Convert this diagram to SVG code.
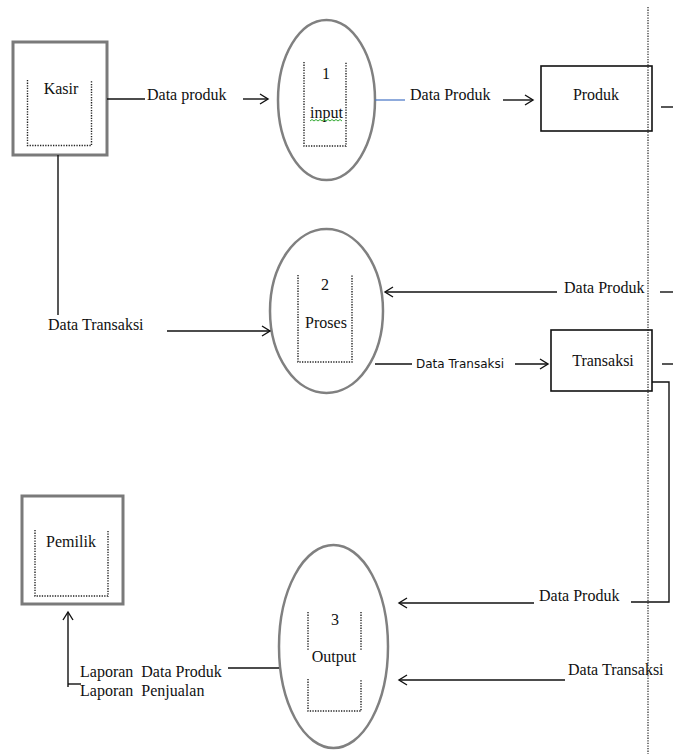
<svg xmlns="http://www.w3.org/2000/svg" width="673" height="754" viewBox="0 0 673 754" font-family="'Liberation Serif', 'Times New Roman', serif" font-size="16">
<style>
text{font-family:"Liberation Serif","Times New Roman",serif;font-size:16px;fill:#111}
text.sans{font-family:"DejaVu Sans",Verdana,sans-serif;font-size:12px}
.mid{text-anchor:middle}
.ent{fill:none;stroke:#7a7a7a;stroke-width:3}
.proc{fill:none;stroke:#808080;stroke-width:2.5}
.store{fill:none;stroke:#111;stroke-width:1.6}
.dot{fill:none;stroke:#222;stroke-width:1.4;stroke-dasharray:1.3 1.3}
.ln{fill:none;stroke:#111;stroke-width:1.4}
</style>
<defs>
<marker id="ah" markerUnits="userSpaceOnUse" markerWidth="12" markerHeight="12" refX="9" refY="6" orient="auto">
<path d="M1,1 L9,6 L1,11" fill="none" stroke="#111" stroke-width="1.4"/>
</marker>
</defs>
<rect width="673" height="754" fill="#fff"/>
<line x1="648" y1="7" x2="648" y2="754" stroke="#444" stroke-width="1.4" stroke-dasharray="1.3 1.3"/>
<g id="kasir">
<rect class="ent" x="13" y="42" width="94" height="113"/>
<path class="dot" d="M27.5,80 V145.5 H91.5 V80"/>
<text class="mid" x="61" y="94" font-family="'Liberation Serif', serif">Kasir</text>
</g>
<g id="pemilik">
<rect class="ent" x="22" y="496" width="101" height="108"/>
<path class="dot" d="M35,530 V596 H108 V530"/>
<text class="mid" x="71" y="547" font-family="'Liberation Serif', serif">Pemilik</text>
</g>
<g id="p1">
<ellipse class="proc" cx="326.5" cy="100" rx="48.5" ry="80"/>
<path class="dot" d="M304,62 V146 H346 V62"/>
<text class="mid" x="326" y="79" font-family="'Liberation Serif', serif">1</text>
<text class="mid" x="326.5" y="118" font-family="'Liberation Serif', serif">input</text>
<path d="M310,121 l2,-1.5 l2,1.5 l2,-1.5 l2,1.5 l2,-1.5 l2,1.5 l2,-1.5 l2,1.5 l2,-1.5 l2,1.5 l2,-1.5 l2,1.5 l2,-1.5 l2,1.5 l2,-1.5 l2,1.5" fill="none" stroke="#3a3" stroke-width="1"/>
</g>
<g id="p2">
<ellipse class="proc" cx="326.5" cy="311" rx="56.5" ry="82"/>
<path class="dot" d="M298,275 V362 H352 V275"/>
<text class="mid" x="325" y="290" font-family="'Liberation Serif', serif">2</text>
<text class="mid" x="326" y="328" font-family="'Liberation Serif', serif">Proses</text>
</g>
<g id="p3">
<ellipse class="proc" cx="333.5" cy="646.5" rx="54.5" ry="101.5"/>
<path class="dot" d="M308,612 V650 M361,612 V650 M308,679 V711 H361 V679"/>
<text class="mid" x="335" y="625" font-family="'Liberation Serif', serif">3</text>
<text class="mid" x="334" y="662" font-family="'Liberation Serif', serif">Output</text>
</g>
<g id="produk">
<rect class="store" x="541" y="66" width="111" height="65"/>
<text class="mid" x="596" y="100" font-family="'Liberation Serif', serif">Produk</text>
</g>
<g id="transaksi">
<rect class="store" x="551" y="330" width="101" height="61"/>
<text class="mid" x="603" y="366" font-family="'Liberation Serif', serif">Transaksi</text>
</g>
<g id="connectors">
<line class="ln" x1="107" y1="99" x2="145" y2="99"/>
<line class="ln" x1="243" y1="99" x2="268" y2="99" marker-end="url(#ah)"/>
<text x="147" y="100" font-family="'Liberation Serif', serif">Data produk</text>
<line x1="375" y1="100" x2="405" y2="100" stroke="#4472c4" stroke-width="1.2"/>
<text x="410" y="100" font-family="'Liberation Serif', serif">Data Produk</text>
<line class="ln" x1="503" y1="100" x2="533" y2="100" marker-end="url(#ah)"/>
<line class="ln" x1="661" y1="107" x2="673" y2="107"/>
<line class="ln" x1="58" y1="155" x2="58" y2="315"/>
<text x="48" y="330" font-family="'Liberation Serif', serif">Data Transaksi</text>
<line class="ln" x1="167" y1="331" x2="270" y2="331" marker-end="url(#ah)"/>
<line class="ln" x1="557" y1="292" x2="385" y2="292" marker-end="url(#ah)"/>
<text x="564" y="293" font-family="'Liberation Serif', serif">Data Produk</text>
<line class="ln" x1="660" y1="292" x2="673" y2="292"/>
<line class="ln" x1="375" y1="364" x2="412" y2="364"/>
<text class="sans" x="416" y="368" font-family="'DejaVu Sans', sans-serif" font-size="12">Data Transaksi</text>
<line class="ln" x1="515" y1="364" x2="548" y2="364" marker-end="url(#ah)"/>
<line class="ln" x1="662" y1="364" x2="673" y2="364"/>
<path class="ln" d="M652,382 H669 V602 H631"/>
<text x="539" y="601" font-family="'Liberation Serif', serif">Data Produk</text>
<line class="ln" x1="534" y1="603" x2="399" y2="603" marker-end="url(#ah)"/>
<text x="568" y="675" font-family="'Liberation Serif', serif">Data Transaksi</text>
<line class="ln" x1="565" y1="680" x2="399" y2="680" marker-end="url(#ah)"/>
<line class="ln" x1="279" y1="668" x2="228" y2="668"/>
<text x="80" y="677" xml:space="preserve" font-family="'Liberation Serif', serif">Laporan  Data Produk</text>
<text x="80" y="696" xml:space="preserve" font-family="'Liberation Serif', serif">Laporan  Penjualan</text>
<line class="ln" x1="68" y1="687" x2="68" y2="612" marker-end="url(#ah)"/>
<line class="ln" x1="68" y1="684" x2="81" y2="684"/>
</g>
</svg>
